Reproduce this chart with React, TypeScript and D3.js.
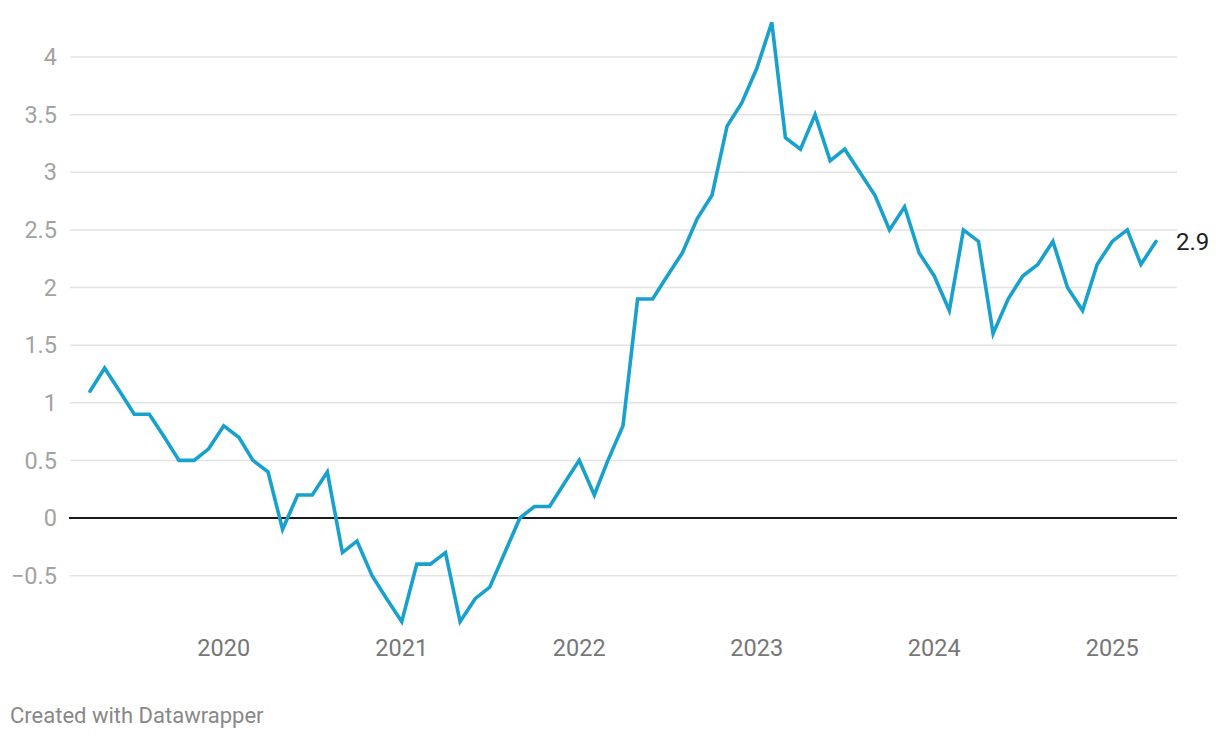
import React from "react";
import * as d3 from "d3";

const startYear = 2019;
const startMonth = 3; // April (0-based)
const values: number[] = [
  1.1, 1.3, 1.1, 0.9, 0.9, 0.7, 0.5, 0.5, 0.6,
  0.8, 0.7, 0.5, 0.4, -0.1, 0.2, 0.2, 0.4, -0.3, -0.2, -0.5, -0.7,
  -0.9, -0.4, -0.4, -0.3, -0.9, -0.7, -0.6, -0.3, 0.0, 0.1, 0.1, 0.3,
  0.5, 0.2, 0.5, 0.8, 1.9, 1.9, 2.1, 2.3, 2.6, 2.8, 3.4, 3.6,
  3.9, 4.3, 3.3, 3.2, 3.5, 3.1, 3.2, 3.0, 2.8, 2.5, 2.7, 2.3,
  2.1, 1.8, 2.5, 2.4, 1.6, 1.9, 2.1, 2.2, 2.4, 2.0, 1.8, 2.2,
  2.4, 2.5, 2.2, 2.4,
];
const yTicks = [-0.5, 0, 0.5, 1, 1.5, 2, 2.5, 3, 3.5, 4];
const xTickYears = [2020, 2021, 2022, 2023, 2024, 2025];
const endLabel = "2.9";
const credit = "Created with Datawrapper";

const dates = values.map((_, i) => new Date(startYear, startMonth + i, 1));

export default function App() {
  const W = 1220, H = 738;
  const x = d3.scaleTime()
    .domain([dates[0], dates[dates.length - 1]])
    .range([90, 1156]);
  const y = d3.scaleLinear().domain([0, 4]).range([518, 57]);
  const line = d3.line<number>()
    .x((_, i) => x(dates[i]))
    .y((d) => y(d));
  const font = "Roboto, 'Noto Sans', sans-serif";
  const last = values[values.length - 1];
  return (
    <svg width={W} height={H} style={{ position: "absolute", left: 0, top: 0 }} fontFamily={font}>
      <rect width={W} height={H} fill="#fff" />
      {yTicks.filter((t) => t !== 0).map((t) => (
        <line key={t} x1={70} x2={1177} y1={y(t)} y2={y(t)} stroke="#e3e3e3" strokeWidth={1.5} />
      ))}
      {yTicks.map((t) => (
        <text key={"l" + t} x={57} y={y(t)} dy="0.35em" textAnchor="end" fontSize={23.5} fill="#a3a3a3">
          {t < 0 ? "\u2212" + Math.abs(t) : String(t)}
        </text>
      ))}
      <line x1={69} x2={1177} y1={y(0)} y2={y(0)} stroke="#1a1a1a" strokeWidth={2} />
      {xTickYears.map((yr) => (
        <text key={yr} x={x(new Date(yr, 0, 1))} y={648} dy="0.35em" textAnchor="middle" fontSize={23.5} fill="#777">
          {yr}
        </text>
      ))}
      <path d={line(values) || ""} fill="none" stroke="#18a1cd" strokeWidth={3.6} strokeLinejoin="miter" strokeLinecap="round" />
      <text x={1176} y={y(last)} dy="0.35em" fontSize={24} fill="#222">{endLabel}</text>
      <text x={10} y={715} dy="0.35em" fontSize={22} fill="#888">{credit}</text>
    </svg>
  );
}
